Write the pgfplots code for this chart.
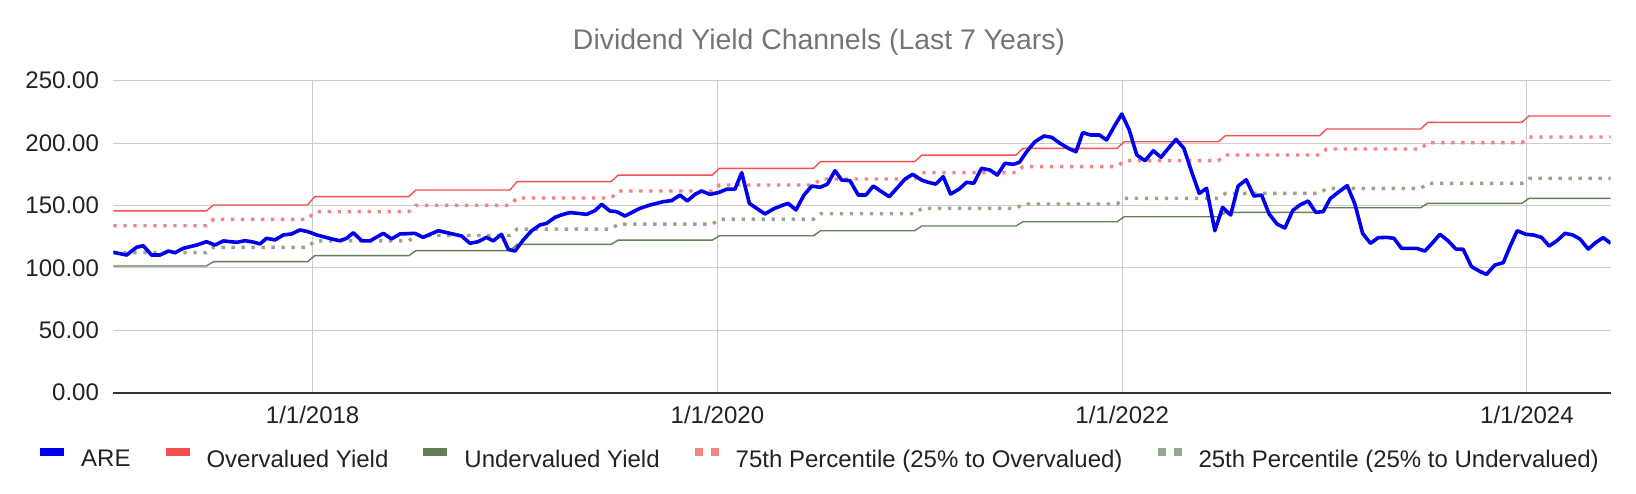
\documentclass[border=0pt]{standalone}
\usepackage{fontspec}
\setmainfont{Liberation Sans}
\usepackage{pgfplots}
\usepackage{pgfplotstable}
\pgfplotsset{compat=1.18}
\definecolor{areblue}{RGB}{0,0,238}
\definecolor{overred}{RGB}{245,80,80}
\definecolor{undergreen}{RGB}{98,128,86}
\definecolor{pinkdot}{RGB}{242,132,132}
\definecolor{greendot}{RGB}{150,168,140}
\definecolor{gridcol}{RGB}{204,204,204}
\definecolor{axiscol}{RGB}{51,51,51}
\definecolor{labelcol}{RGB}{34,34,34}
\definecolor{titlecol}{RGB}{117,117,117}

\pgfplotstableread{
x over under pseventyfive ptwentyfive
2017.015 145.7 101.5 133.8 112.2
2017.475 145.7 101.5 133.8 112.2
2017.510 150.4 105.0 138.9 116.5
2017.975 150.4 105.0 138.9 116.5
2018.010 157.1 109.8 145.0 121.6
2018.475 157.1 109.8 145.0 121.6
2018.510 162.4 113.8 150.2 126.0
2018.975 162.4 113.8 150.2 126.0
2019.010 169.1 118.9 156.0 131.1
2019.475 169.1 118.9 156.0 131.1
2019.510 174.4 122.3 161.6 135.1
2019.975 174.4 122.3 161.6 135.1
2020.010 179.8 125.8 166.4 139.1
2020.475 179.8 125.8 166.4 139.1
2020.510 185.1 129.8 171.2 143.4
2020.975 185.1 129.8 171.2 143.4
2021.010 190.4 133.6 176.3 147.7
2021.475 190.4 133.6 176.3 147.7
2021.510 195.8 137.0 181.1 151.2
2021.975 195.8 137.0 181.1 151.2
2022.010 201.1 141.0 185.9 155.7
2022.475 201.1 141.0 185.9 155.7
2022.510 205.9 144.5 190.5 159.7
2022.975 205.9 144.5 190.5 159.7
2023.010 211.3 148.2 195.3 163.7
2023.475 211.3 148.2 195.3 163.7
2023.510 216.6 151.7 200.4 167.7
2023.975 216.6 151.7 200.4 167.7
2024.010 221.7 155.7 204.9 171.7
2024.414 221.7 155.7 204.9 171.7
}\steps

\pgfplotstableread{
x are
2017.015 112.5
2017.081 110.3
2017.130 116.5
2017.163 117.8
2017.204 110.3
2017.246 110.3
2017.287 113.5
2017.320 112.2
2017.361 115.7
2017.427 118.3
2017.476 121.0
2017.517 118.3
2017.559 121.6
2017.624 120.5
2017.666 121.8
2017.707 120.7
2017.740 119.2
2017.772 123.7
2017.814 122.4
2017.855 126.4
2017.896 127.2
2017.937 130.4
2017.978 129.0
2018.020 126.4
2018.053 125.0
2018.102 122.9
2018.135 121.8
2018.168 123.7
2018.201 128.2
2018.242 121.8
2018.283 121.6
2018.349 127.7
2018.390 123.2
2018.431 127.2
2018.505 127.7
2018.546 124.5
2018.621 129.8
2018.678 127.7
2018.736 125.6
2018.777 119.7
2018.818 121.0
2018.859 124.5
2018.892 121.6
2018.933 126.9
2018.967 114.9
2019.000 113.5
2019.041 122.4
2019.082 129.8
2019.123 134.4
2019.156 135.7
2019.197 140.5
2019.238 142.9
2019.271 144.3
2019.312 143.7
2019.354 142.9
2019.395 145.9
2019.428 150.9
2019.469 145.6
2019.502 145.1
2019.543 141.6
2019.617 147.7
2019.667 150.4
2019.733 153.1
2019.774 153.9
2019.815 158.4
2019.851 153.6
2019.889 158.9
2019.922 161.6
2019.963 158.9
2020.004 160.3
2020.045 163.0
2020.087 163.2
2020.120 176.3
2020.158 151.7
2020.194 147.7
2020.235 143.2
2020.276 147.2
2020.317 149.9
2020.350 151.7
2020.388 146.4
2020.428 158.4
2020.466 165.6
2020.507 164.6
2020.543 167.0
2020.581 177.9
2020.614 170.4
2020.655 169.9
2020.696 158.4
2020.734 158.4
2020.770 165.6
2020.811 161.1
2020.849 157.1
2020.894 165.1
2020.927 171.2
2020.965 175.0
2021.009 170.4
2021.041 168.6
2021.079 167.2
2021.116 173.1
2021.152 159.2
2021.195 163.2
2021.231 168.6
2021.267 167.8
2021.305 179.8
2021.347 178.4
2021.383 174.4
2021.421 183.8
2021.462 183.0
2021.492 184.6
2021.528 193.1
2021.569 201.1
2021.614 205.7
2021.652 204.6
2021.693 199.8
2021.734 195.8
2021.772 193.1
2021.805 208.4
2021.844 206.5
2021.887 206.5
2021.923 202.5
2021.965 214.5
2021.998 223.3
2022.035 210.5
2022.072 190.5
2022.113 185.9
2022.154 193.9
2022.192 188.6
2022.228 195.8
2022.266 203.0
2022.305 195.8
2022.343 177.1
2022.381 159.7
2022.417 163.8
2022.458 129.8
2022.496 148.5
2022.536 142.4
2022.573 165.6
2022.613 170.6
2022.651 157.6
2022.689 158.4
2022.726 143.2
2022.766 135.0
2022.804 132.0
2022.843 146.0
2022.878 150.4
2022.919 153.6
2022.957 144.5
2022.993 145.1
2023.029 155.7
2023.072 161.1
2023.112 165.9
2023.150 151.2
2023.188 127.7
2023.227 119.7
2023.265 124.2
2023.306 124.5
2023.343 123.7
2023.380 115.7
2023.418 115.7
2023.455 115.7
2023.496 113.5
2023.534 120.2
2023.570 126.9
2023.611 121.6
2023.649 115.1
2023.685 114.9
2023.726 101.0
2023.764 97.5
2023.800 94.8
2023.842 102.3
2023.883 104.2
2023.916 117.0
2023.952 129.8
2023.995 126.9
2024.031 126.4
2024.072 124.5
2024.110 117.5
2024.147 121.6
2024.188 127.7
2024.226 126.4
2024.262 123.2
2024.303 115.1
2024.341 120.5
2024.377 124.2
2024.414 119.7
}\aredata

\begin{document}
\fontsize{12bp}{14bp}\selectfont
\begin{tikzpicture}
\useasboundingbox (0,0) rectangle (818bp,247bp);
\begin{axis}[
  at={(56.65bp,50.65bp)}, anchor=south west,
  width=748.7bp, height=156bp, scale only axis,
  xmin=2017.015, xmax=2024.414, ymin=0, ymax=250,
  xtick={2018,2020,2022,2024},
  xticklabels={1/1/2018,1/1/2020,1/1/2022,1/1/2024},
  ytick={0,50,100,150,200,250},
  /pgf/number format/assume math mode=true,
  yticklabel style={/pgf/number format/fixed, /pgf/number format/fixed zerofill, /pgf/number format/precision=2, xshift=-3bp},
  xticklabel style={yshift=-2.5bp},
  tick label style={font=\fontsize{12bp}{14bp}\selectfont, color=labelcol},
  major tick length=0pt,
  tick style={draw=none},
  grid=major,
  major grid style={line width=0.5bp, color=gridcol},
  axis x line*=bottom, axis y line*=left,
  y axis line style={draw=none},
  x axis line style={line width=0.85bp, color=axiscol, -},
  title={Dividend Yield Channels (Last 7 Years)},
  title style={at={(0.5,1)}, anchor=base, xshift=-21.5bp, yshift=9.5bp, font=\fontsize{14.2bp}{17bp}\selectfont, color=titlecol},
  legend image code/.code={\draw[#1] (0bp,4.3bp) -- (12bp,4.3bp);},
  legend columns=5,
  legend cell align=left,
  legend style={at={(0.5,0)}, anchor=center, xshift=-22.25bp, yshift=-33.2bp,
    draw=none, fill=none, inner sep=0pt, outer sep=0pt,
    font=\fontsize{12bp}{14bp}\selectfont, text=labelcol,
    nodes={inner sep=0pt},
    /tikz/every odd column/.append style={column sep=6.5bp},
    /tikz/every even column/.append style={column sep=15.5bp}},
]
\addlegendimage{areblue, line width=4bp}
\addlegendentry{ARE}
\addlegendimage{overred, line width=4bp}
\addlegendentry{Overvalued Yield}
\addlegendimage{undergreen, line width=4bp}
\addlegendentry{Undervalued Yield}
\addlegendimage{pinkdot, line width=4bp, dash pattern=on 4bp off 4bp}
\addlegendentry{75th Percentile (25\% to Overvalued)}
\addlegendimage{greendot, line width=4bp, dash pattern=on 4bp off 4bp}
\addlegendentry{25th Percentile (25\% to Undervalued)}

\addplot[undergreen, line width=0.7bp, forget plot] table[x=x, y=under] {\steps};
\addplot[overred, line width=0.7bp, forget plot] table[x=x, y=over] {\steps};
\addplot[greendot, line width=1.7bp, dash pattern=on 1.7bp off 3.3bp, forget plot] table[x=x, y=ptwentyfive] {\steps};
\addplot[pinkdot, line width=1.7bp, dash pattern=on 1.7bp off 3.3bp, forget plot] table[x=x, y=pseventyfive] {\steps};
\addplot[areblue, line width=1.8bp, line join=round, forget plot] table[x=x, y=are] {\aredata};
\end{axis}
\end{tikzpicture}
\end{document}
